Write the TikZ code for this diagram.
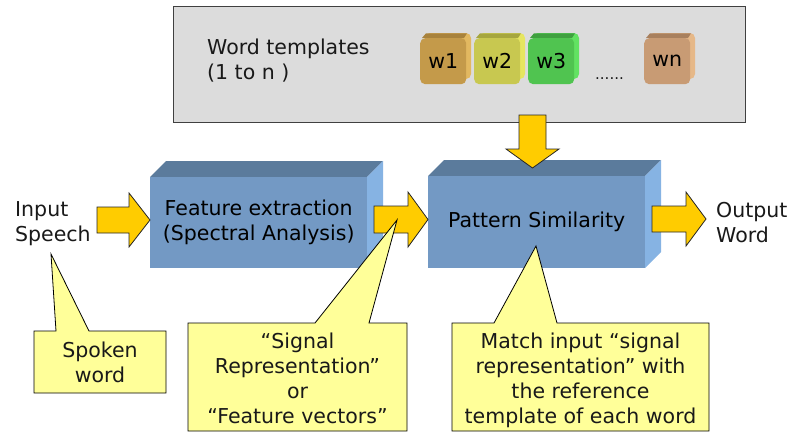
\documentclass[tikz,border=0pt]{standalone}
\usepackage{fontspec}
\setmainfont{DejaVu Sans}
\usetikzlibrary{calc}
\definecolor{grayfill}{HTML}{DCDCDC}
\definecolor{grayline}{HTML}{404040}
\definecolor{bfront}{HTML}{7399C4}
\definecolor{btop}{HTML}{5B7B9C}
\definecolor{bside}{HTML}{86B3E3}
\definecolor{arryel}{HTML}{FFCC00}
\definecolor{callyel}{HTML}{FFFF99}
\definecolor{aF}{HTML}{C49A4A}\definecolor{aT}{HTML}{A8823C}\definecolor{aS}{HTML}{E2B860}
\definecolor{bF}{HTML}{C8C850}\definecolor{bT}{HTML}{A6A63E}\definecolor{bS}{HTML}{E6E660}
\definecolor{cF}{HTML}{50C450}\definecolor{cT}{HTML}{3FA03F}\definecolor{cS}{HTML}{62E262}
\definecolor{dF}{HTML}{C89B74}\definecolor{dT}{HTML}{A8805E}\definecolor{dS}{HTML}{E6B888}
\newcommand{\wordcube}[6]{%
  \fill[#5,rounded corners=5] (#2+5,33) rectangle (#2+51,79);
  \fill[#4] (#2+2,38) -- (#2+6,33.3) -- (#2+47,33.3) -- (#2+44,38) -- cycle;
  \node[fill=#3, rounded corners=5, minimum width=46, minimum height=46, inner sep=0, anchor=north west] (#1) at (#2,38) {#6};
}
\tikzset{
  txt/.style={inner sep=0, text=black!90},
  yarrow/.style={fill=arryel, draw=black!85, line width=0.8},
  callout/.style={fill=callyel, draw=black, line width=0.8, line join=miter},
}
\begin{document}
\begin{tikzpicture}[x=1pt,y=-1pt,font=\fontsize{20.5}{25}\selectfont]
\useasboundingbox (0,0) rectangle (790,432);
% template panel
\node[fill=grayfill, draw=grayline, line width=1.2, minimum width=572, minimum height=116, inner sep=0, anchor=north west] (panel) at (173,6) {};
\node[txt, anchor=west, align=left] (wt) at (207,61) {Word templates\\(1 to n )};
\wordcube{w1}{420}{aF}{aT}{aS}{w1}
\wordcube{w2}{474}{bF}{bT}{bS}{w2}
\wordcube{w3}{528}{cF}{cT}{cS}{w3}
\node[txt, anchor=base west, font=\fontsize{15}{18}\selectfont] (dots) at (595,79) {......};
\wordcube{wn}{644}{dF}{dT}{dS}{wn}
% 3D boxes
\fill[btop] (150,177) -- (166,161) -- (383,161) -- (367,177) -- cycle;
\fill[bside] (367,177) -- (383,161) -- (383,252) -- (367,268) -- cycle;
\node[fill=bfront, minimum width=217, minimum height=91, inner sep=0, anchor=north west, align=center] (fe) at (150,177) {Feature extraction\\(Spectral Analysis)};
\fill[btop] (428,176) -- (444,160) -- (661,160) -- (645,176) -- cycle;
\fill[bside] (645,176) -- (661,160) -- (661,252) -- (645,268) -- cycle;
\node[fill=bfront, minimum width=217, minimum height=92, inner sep=0, anchor=north west] (ps) at (428,176) {Pattern Similarity};
% labels
\node[txt, anchor=west, align=left] (inp) at (15,224) {Input\\Speech};
\node[txt, anchor=west, align=left] (outw) at (716,223) {Output\\Word};
% arrows
\draw[yarrow] (97,207) -- (129,207) -- (129,193) -- (fe.west |- 0,220) -- (129,247) -- (129,233) -- (97,233) -- cycle;
\draw[yarrow] (374,206) -- (408,206) -- (408,192) -- (ps.west |- 0,219.5) -- (408,247) -- (408,233) -- (374,233) -- cycle;
\draw[yarrow] (652,206) -- (686,206) -- (686,192) -- (706,219) -- (686,246) -- (686,232) -- (652,232) -- cycle;
\draw[yarrow] (519,115) -- (546,115) -- (546,149) -- (559,149) -- (532.5,168) -- (506,149) -- (519,149) -- cycle;
% callouts
\coordinate (spA) at (34,331); \coordinate (spB) at (166,393); \coordinate (spT) at (51,254);
\draw[callout] (spA) -- (56,331) -- (spT) -- (89,331) -- (166,331) -- (spB) -- (34,393) -- cycle;
\node[txt, align=center] (spk) at (100,362) {Spoken\\word};
\coordinate (sgA) at (188,323); \coordinate (sgB) at (407,431); \coordinate (sgT) at (397,220);
\draw[callout] (sgA) -- (315,323) -- (sgT) -- (369,323) -- (407,323) -- (sgB) -- (188,431) -- cycle;
\node[txt, align=center] (sig) at (297.5,378.5) {“Signal\\Representation”\\or\\“Feature vectors”};
\coordinate (mtA) at (452,323); \coordinate (mtB) at (709,431); \coordinate (mtT) at (536,246);
\draw[callout] (mtA) -- (494,323) -- (mtT) -- (557,323) -- (709,323) -- (mtB) -- (452,431) -- cycle;
\node[txt, align=center] (mt) at (580.5,380.5) {Match input “signal\\representation” with\\the reference\\template of each word};
\end{tikzpicture}
\end{document}
